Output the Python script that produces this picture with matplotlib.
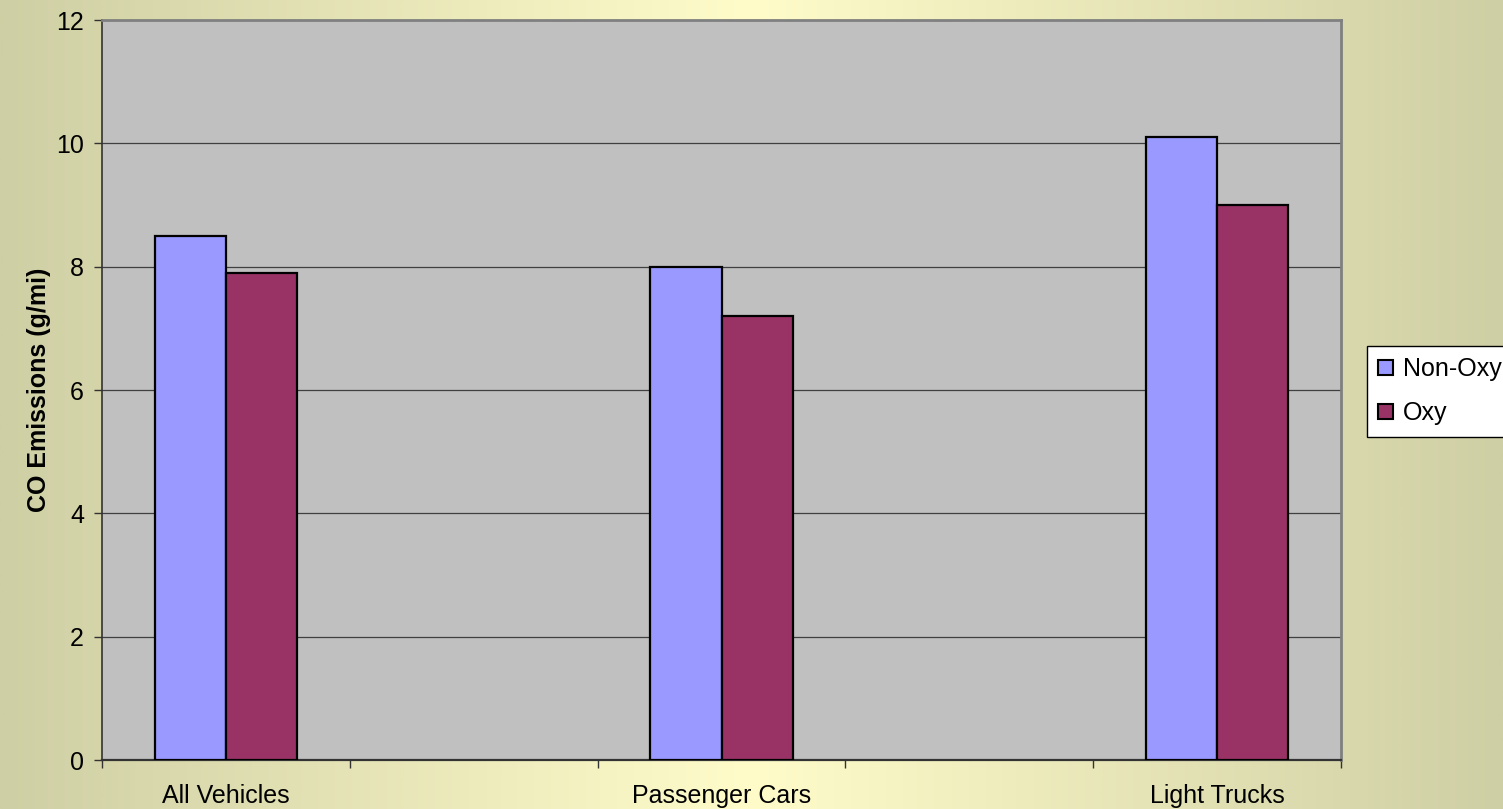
import numpy as np
import matplotlib
matplotlib.use("Agg")
from matplotlib import pyplot as plt
from matplotlib.colors import LinearSegmentedColormap
from matplotlib.patches import Patch

# Daten
categories = ["All Vehicles", "Passenger Cars", "Light Trucks"]
non_oxy = [8.5, 8.0, 10.1]
oxy = [7.9, 7.2, 9.0]
series_names = ["Non-Oxy", "Oxy"]
y_ticks = [0, 2, 4, 6, 8, 10, 12]

plt.rcParams['font.family'] = ['Liberation Sans', 'DejaVu Sans']
fs = 18

fig = plt.figure(figsize=(15.03, 8.09), dpi=100)

# Hintergrund-Verlauf (Rand khaki, Mitte hellgelb)
bg = fig.add_axes([0, 0, 1, 1], zorder=-10)
cmap = LinearSegmentedColormap.from_list("bg", ["#cfcfa5", "#fffcca", "#cfcfa5"])
bg.imshow(np.linspace(0, 1, 512)[None, :], aspect="auto", cmap=cmap, extent=[0, 1, 0, 1])
bg.axis("off")

ax = fig.add_axes([102 / 1503, 49 / 809, 1239 / 1503, 740 / 809])
ax.set_facecolor("#c0c0c0")

# 5 Slots, Kategorien auf jedem zweiten
pos = np.array([0, 2, 4])
w = 0.287
ax.bar(pos - w / 2, non_oxy, width=w, color="#9999ff", edgecolor="black", linewidth=1.6, zorder=3)
ax.bar(pos + w / 2, oxy, width=w, color="#993366", edgecolor="black", linewidth=1.6, zorder=3)

ax.set_xlim(-0.5, 4.5)
ax.set_ylim(0, 12)
ax.set_yticks(y_ticks)
ax.set_yticklabels([str(t) for t in y_ticks], fontsize=fs)
ax.set_xticks(np.arange(-0.5, 5, 1.0))
ax.set_xticklabels([])
ax.set_xticks(pos, minor=True)
ax.set_xticklabels(categories, minor=True, fontsize=fs)
ax.tick_params(axis="x", which="minor", length=0, pad=17)
ax.tick_params(axis="x", which="major", length=6, width=1, color="#333333", direction="out")
ax.tick_params(axis="y", length=6, width=1, color="#333333", pad=7)

for y in y_ticks[1:-1]:
    ax.axhline(y, color="#404040", linewidth=0.9, zorder=1)

ax.spines["left"].set_color("#333333")
ax.spines["bottom"].set_color("#333333")
ax.spines["left"].set_linewidth(1.2)
ax.spines["bottom"].set_linewidth(1.6)
ax.spines["top"].set_color("#808080")
ax.spines["right"].set_color("#808080")
ax.spines["top"].set_linewidth(2)
ax.spines["right"].set_linewidth(2)

ax.set_ylabel("CO Emissions (g/mi)", fontsize=fs, fontweight="bold")
ax.yaxis.set_label_coords(-0.041, 0.5)

handles = [Patch(facecolor="#9999ff", edgecolor="black", linewidth=1.5),
           Patch(facecolor="#993366", edgecolor="black", linewidth=1.5)]
leg = fig.legend(handles, series_names, loc="upper left",
                 bbox_to_anchor=(1367 / 1503, 1 - 346 / 809), fontsize=fs,
                 frameon=True, fancybox=False, borderaxespad=0,
                 handlelength=0.6, handleheight=0.6, handletextpad=0.4,
                 labelspacing=0.8, borderpad=0.45)
leg.get_frame().set_edgecolor("black")
leg.get_frame().set_linewidth(1)
leg.get_frame().set_facecolor("white")
leg.get_frame().set_alpha(1)

fig.savefig("out.png", dpi=100)
